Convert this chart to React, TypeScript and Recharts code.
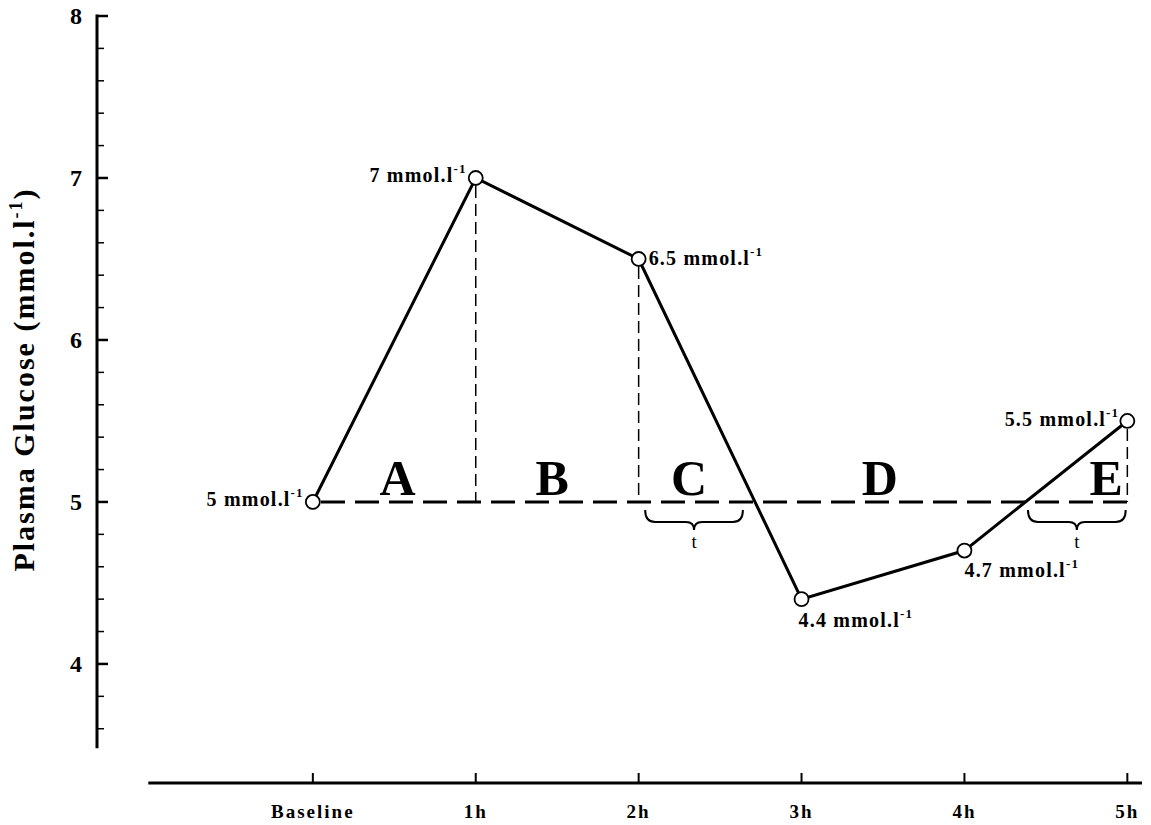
import React from 'react';
import { ComposedChart, Line, XAxis, YAxis, ReferenceLine, ReferenceDot, LabelList } from 'recharts';

const timeLabels = ['Baseline', '1h', '2h', '3h', '4h', '5h'];
const timeIndex = [0, 1, 2, 3, 4, 5];
const glucose = [5, 7, 6.5, 4.4, 4.7, 5.5];
const glucoseText = ['5', '7', '6.5', '4.4', '4.7', '5.5'];
const yMajorTicks = [4, 5, 6, 7, 8];
const yMinorTicks = [3.6, 3.8, 4.2, 4.4, 4.6, 4.8, 5.2, 5.4, 5.6, 5.8, 6.2, 6.4, 6.6, 6.8, 7.2, 7.4, 7.6, 7.8];
const baselineGlucose = 5;
const areaLetters = ['A', 'B', 'C', 'D', 'E'];
const areaLetterX = [0.52, 1.47, 2.31, 3.48, 4.87];
const belowSpanStart = [2.04, 4.39];
const belowSpanEnd = [2.64, 4.99];
const dropLineIndex = [1, 2, 5];

const data = timeIndex.map((t, i) => ({ t, label: timeLabels[i], glucose: glucose[i], text: glucoseText[i] }));

const FONT = "'Liberation Serif', 'Times New Roman', Times, serif";
const X_DOMAIN: [number, number] = [-1.325, 5.09];
const Y_DOMAIN: [number, number] = [3.265, 8];

// where each value label sits relative to its point
const labelPlacement = [
  { dx: -9, dy: 4, anchor: 'end' },
  { dx: -9, dy: 4, anchor: 'end' },
  { dx: 10, dy: 6, anchor: 'start' },
  { dx: -3, dy: 28, anchor: 'start' },
  { dx: 0, dy: 26, anchor: 'start' },
  { dx: -8, dy: 5, anchor: 'end' },
];

const YTick = (props: any) => {
  const { x, y, payload } = props;
  const major = yMajorTicks.includes(payload.value);
  return (
    <g>
      <line x1={x} y1={y} x2={x + (major ? 11 : 7)} y2={y} stroke="#000" strokeWidth={major ? 2.5 : 1.5} />
      {major && (
        <text x={x - 15} y={y + 8} textAnchor="end" fontFamily={FONT} fontWeight="bold" fontSize={24} fill="#000">
          {payload.value}
        </text>
      )}
    </g>
  );
};

const XTick = (props: any) => {
  const { x, y, payload } = props;
  return (
    <g>
      <line x1={x} y1={y} x2={x} y2={y - 10} stroke="#000" strokeWidth={2} />
      <text x={x} y={y + 35} textAnchor="middle" fontFamily={FONT} fontWeight="bold" fontSize={19} letterSpacing={2} fill="#000">
        {timeLabels[payload.value]}
      </text>
    </g>
  );
};

const ValueLabel = (props: any) => {
  const cx = props.x ?? props.viewBox?.x;
  const cy = props.y ?? props.viewBox?.y;
  const p = labelPlacement[props.index];
  return (
    <text x={cx + p.dx} y={cy + p.dy} textAnchor={p.anchor} fontFamily={FONT} fontWeight="bold" fontSize={20} letterSpacing={1.2} fill="#000">
      {data[props.index].text} mmol.l
      <tspan dy={-9} fontSize={13}>-1</tspan>
    </text>
  );
};

const AxisTitle = (props: any) => {
  const vb = props.viewBox;
  const cx = vb.x + vb.width - 63;
  const cy = vb.y + vb.height / 2 - 20;
  return (
    <text x={cx} y={cy} transform={`rotate(-90 ${cx} ${cy})`} textAnchor="middle" fontFamily={FONT} fontWeight="bold" fontSize={30} letterSpacing={2} fill="#000">
      Plasma Glucose (mmol.l<tspan dy={-12} fontSize={18}>-1</tspan>
      <tspan dy={12}>)</tspan>
    </text>
  );
};

const Brace = (props: any) => {
  const { x1, x2, y1 } = props;
  const y = y1 + 8;
  const mid = (x1 + x2) / 2;
  const d = `M${x1},${y} Q${x1},${y + 12} ${x1 + 10},${y + 12} L${mid - 8},${y + 12} Q${mid},${y + 12} ${mid},${y + 20} Q${mid},${y + 12} ${mid + 8},${y + 12} L${x2 - 10},${y + 12} Q${x2},${y + 12} ${x2},${y}`;
  return (
    <g>
      <path d={d} fill="none" stroke="#000" strokeWidth={2} />
      <text x={mid} y={y + 38} textAnchor="middle" fontFamily={FONT} fontSize={19} fill="#000">t</text>
    </g>
  );
};

const App = () => {
  return (
    <div style={{ position: 'absolute', left: 0, top: 0, background: '#fff' }}>
      <ComposedChart width={1151} height={825} data={data} margin={{ top: 16, right: 9, bottom: 0, left: 37 }}>
        <XAxis
          dataKey="t"
          type="number"
          domain={X_DOMAIN}
          ticks={timeIndex}
          interval={0}
          axisLine={false}
          tickLine={false}
          tickSize={0}
          tickMargin={0}
          tick={<XTick />}
          height={42}
          allowDataOverflow
        />
        <YAxis
          type="number"
          domain={Y_DOMAIN}
          ticks={[...yMinorTicks, ...yMajorTicks].sort((a, b) => a - b)}
          interval={0}
          axisLine={false}
          tickLine={false}
          tickSize={0}
          tickMargin={0}
          tick={<YTick />}
          width={60}
          allowDataOverflow
          label={<AxisTitle />}
        />
        {/* axis lines */}
        <ReferenceLine segment={[{ x: X_DOMAIN[0], y: 3.48 }, { x: X_DOMAIN[0], y: 8.01 }]} stroke="#000" strokeWidth={3} ifOverflow="visible" />
        <ReferenceLine segment={[{ x: -1.01, y: Y_DOMAIN[0] }, { x: X_DOMAIN[1], y: Y_DOMAIN[0] }]} stroke="#000" strokeWidth={3} ifOverflow="visible" />

        {/* baseline level */}
        <ReferenceLine segment={[{ x: 0.05, y: baselineGlucose }, { x: 5, y: baselineGlucose }]} stroke="#000" strokeWidth={3} strokeDasharray="24 10" ifOverflow="visible" />
        {dropLineIndex.map((i) => (
          <ReferenceLine
            key={`drop-${i}`}
            segment={[{ x: timeIndex[i], y: glucose[i] - 0.05 }, { x: timeIndex[i], y: baselineGlucose }]}
            stroke="#000"
            strokeWidth={1.5}
            strokeDasharray="12 6"
            ifOverflow="visible"
          />
        ))}
        {belowSpanStart.map((s, i) => (
          <ReferenceLine
            key={`brace-${i}`}
            segment={[{ x: s, y: baselineGlucose }, { x: belowSpanEnd[i], y: baselineGlucose }]}
            shape={<Brace />}
            ifOverflow="visible"
          />
        ))}
        {areaLetters.map((letter, i) => (
          <ReferenceDot
            key={letter}
            x={areaLetterX[i]}
            y={baselineGlucose}
            r={0}
            ifOverflow="visible"
            shape={(p: any) => (
              <text x={p.cx} y={p.cy - 7} textAnchor="middle" fontFamily={FONT} fontWeight="bold" fontSize={50} fill="#000">
                {letter}
              </text>
            )}
          />
        ))}

        <Line
          dataKey="glucose"
          stroke="#000"
          strokeWidth={3}
          dot={{ r: 7, fill: '#fff', stroke: '#000', strokeWidth: 1.8 }}
          activeDot={false}
          isAnimationActive={false}
        >
          <LabelList dataKey="glucose" content={<ValueLabel />} />
        </Line>
      </ComposedChart>
    </div>
  );
};

export default App;
